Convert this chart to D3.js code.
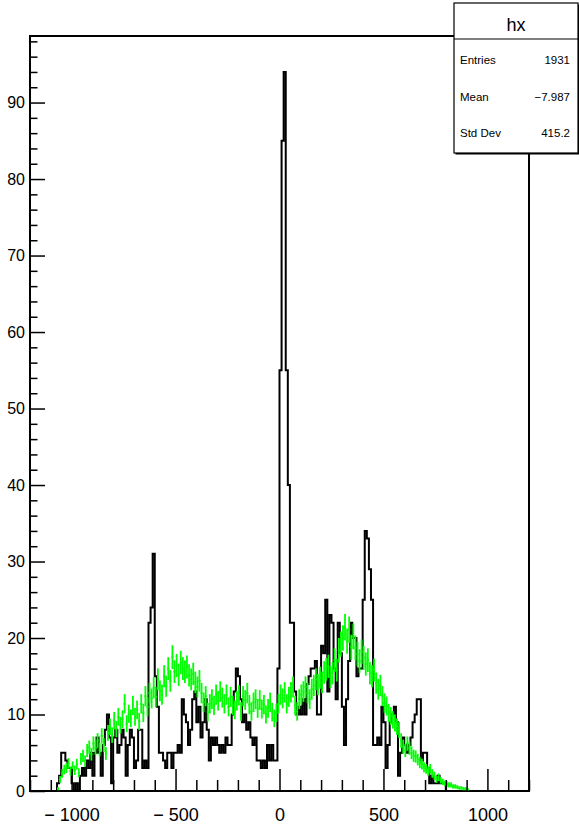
<!DOCTYPE html>
<html><head><meta charset="utf-8">
<script src="https://cdn.jsdelivr.net/npm/d3@7"></script>
<style>
body{margin:0;background:#fff}
svg{display:block}
text{font-family:"Liberation Sans",Arial,Helvetica,sans-serif;fill:#000}
</style>
</head><body><svg id="c" width="579" height="836"></svg>
<script>
// ---- data ----
const xMin = -1200, xMax = 1200, binWidth = 10;
const yMax = 98.7;
const hxFirstBin = 13;
const hxCounts = [
 1,2,5,5,4,3,3,1,0,1,0,2,3,2,4,3,5,2,5,7,5,2,6,8,10,7,1,7,8,5,6,8,7,2,6,8,7,3,4,8,8,3,4,3,
 22,24,31,15,11,5,5,4,3,5,5,3,5,5,6,5,12,10,9,6,8,12,13,9,11,7,9,12,8,4,7,6,7,6,5,6,5,7,6,6,
 10,13,16,15,12,9,10,8,9,7,6,7,4,4,3,4,3,6,4,6,4,4,16,
 55,85,94,55,40,22,22,13,10,11,10,12,10,14,15,16,16,17,10,10,19,18,25,13,23,22,16,12,22,18,
 11,6,12,17,22,20,20,15,16,16,25,34,33,29,25,6,6,7,6,11,9,3,6,9,10,11,9,2,5,7,6,5,6,7,9,10,
 12,12,4,5,5,3,1,2,1,1,2,1,1,1
];
const greenFirstBin = 13;
const greenValues = [
 0.3,1.5,2.3,2.8,3.0,3.6,2.6,3.2,2.7,3.5,2.4,4.2,4.6,3.9,5.3,5.7,4.8,6.2,5.6,6.6,5.4,7.2,6.0,4.9,
 7.6,8.4,7.3,9.2,8.1,9.7,8.6,9.4,11.4,8.8,10.1,9.5,11.2,9.7,10.6,9.1,11.4,10.2,12.4,11.0,12.8,
 12.1,13.5,12.3,14.6,13.1,12.6,15.0,13.7,16.0,14.4,17.5,15.6,16.4,15.2,16.8,16.0,15.6,16.2,15.1,
 14.6,15.3,14.2,13.6,14.4,12.8,11.6,12.4,10.3,11.4,12.0,11.2,12.6,11.8,13.0,12.2,11.4,12.6,11.0,
 12.3,11.2,10.6,11.8,12.5,10.4,12.4,11.9,12.8,11.3,10.4,11.6,12.0,10.8,11.9,10.7,11.3,10.0,10.8,
 11.6,10.3,9.5,10.2,11.4,12.6,12.1,12.9,11.4,12.3,12.9,13.6,11.2,10.4,12.0,12.6,13.0,13.6,12.8,
 12.0,13.3,13.8,14.6,13.9,14.8,14.2,15.5,15.9,16.3,14.9,15.4,17.1,15.8,18.4,19.2,20.0,21.4,19.6,
 21.1,18.8,20.2,18.7,17.9,17.0,18.2,17.4,16.6,17.1,15.4,15.0,15.8,14.1,13.3,13.8,12.4,11.5,11.1,
 10.2,9.8,9.3,8.9,8.4,8.0,6.6,5.8,5.3,6.2,5.6,5.0,4.6,4.5,4.1,3.7,3.5,3.1,2.9,2.6,2.9,2.3,2.0,
 1.5,1.8,1.4,1.2,1.0,0.9,0.8,0.8,0.6,0.6,0.5,0.4,0.4,0.3,0.3,0.2
];
const greenWeight = 0.14; // per-entry weight of the scaled histogram (error = sqrt(w*content))
const xMajorTicks = [-1000, -500, 0, 500, 1000];
const yMajorTicks = [0, 10, 20, 30, 40, 50, 60, 70, 80, 90];
const statsTitle = "hx";
const statsLabels = ["Entries", "Mean", "Std Dev"];
const statsValues = ["1931", "\u22127.987", "415.2"];

// ---- layout ----
const L = 30, R = 529, T = 36, B = 791;
const svg = d3.select("#c");
const x = d3.scaleLinear().domain([xMin, xMax]).range([L, R]);
const y = d3.scaleLinear().domain([0, yMax]).range([B, T]);

// frame
svg.append("rect").attr("x", L).attr("y", T).attr("width", R - L).attr("height", B - T)
  .attr("fill", "none").attr("stroke", "#000").attr("stroke-width", 2);

// black histogram outline
const nBins = Math.round((xMax - xMin) / binWidth);
const full = new Array(nBins).fill(0);
hxCounts.forEach((v, k) => full[hxFirstBin + k] = v);
const pts = [[xMin, 0]];
full.forEach((v, i) => {
  const lo = xMin + i * binWidth, hi = lo + binWidth;
  pts.push([lo, v]); pts.push([hi, v]);
});
pts.push([xMax, 0]);
const line = d3.line().x(d => x(d[0])).y(d => y(d[1]));
svg.append("path").attr("d", line(pts)).attr("fill", "none")
  .attr("stroke", "#000").attr("stroke-width", 2).attr("stroke-linejoin", "miter");

// green histogram with error bars
const gData = greenValues.map((v, k) => {
  const i = greenFirstBin + k;
  const lo = xMin + i * binWidth;
  return {lo, hi: lo + binWidth, v, e: Math.sqrt(greenWeight * v)};
});
const g = svg.append("g").attr("stroke", "#00ff00").attr("stroke-width", 1.8);
g.selectAll("line.v").data(gData).join("line").attr("class", "v")
  .attr("x1", d => x((d.lo + d.hi) / 2)).attr("x2", d => x((d.lo + d.hi) / 2))
  .attr("y1", d => y(Math.max(0, d.v - d.e))).attr("y2", d => y(d.v + d.e));
g.selectAll("line.h").data(gData).join("line").attr("class", "h")
  .attr("x1", d => x(d.lo)).attr("x2", d => x(d.hi))
  .attr("y1", d => y(d.v)).attr("y2", d => y(d.v));

// x axis
const xMinor = d3.range(xMin, xMax + 1, 100).filter(v => !xMajorTicks.includes(v));
svg.append("g").attr("transform", `translate(0,${B})`)
  .call(d3.axisBottom(x).tickValues(xMinor).tickSize(-11).tickFormat(""))
  .call(a => a.select(".domain").remove())
  .call(a => a.selectAll("line").attr("stroke-width", 1.5));
svg.append("g").attr("transform", `translate(0,${B})`)
  .call(d3.axisBottom(x).tickValues(xMajorTicks).tickSize(-22).tickPadding(17)
    .tickFormat(d => d < 0 ? "\u2212 " + Math.abs(d) : String(d)))
  .call(a => a.select(".domain").remove())
  .call(a => a.selectAll("line").attr("stroke-width", 1.5))
  .call(a => a.selectAll("text").attr("font-size", 18).attr("font-family", null)
    .style("white-space", "pre"));

// y axis
const yMinor = d3.range(0, yMax, 2).filter(v => v % 10 !== 0);
svg.append("g").attr("transform", `translate(${L},0)`)
  .call(d3.axisLeft(y).tickValues(yMinor).tickSize(-7.5).tickFormat(""))
  .call(a => a.select(".domain").remove())
  .call(a => a.selectAll("line").attr("stroke-width", 1.5));
svg.append("g").attr("transform", `translate(${L},0)`)
  .call(d3.axisLeft(y).tickValues(yMajorTicks).tickSize(-15).tickPadding(5).tickFormat(d3.format("d")))
  .call(a => a.select(".domain").remove())
  .call(a => a.selectAll("line").attr("stroke-width", 1.5))
  .call(a => a.selectAll("text").attr("font-size", 16).attr("font-family", null));

// stats box
const bx = 454, by = 3, bw = 124, bh = 150, sep = 39;
svg.append("rect").attr("x", bx + 1.5).attr("y", by + 1.5).attr("width", bw).attr("height", bh).attr("fill", "#000");
svg.append("rect").attr("x", bx).attr("y", by).attr("width", bw).attr("height", bh)
  .attr("fill", "#fff").attr("stroke", "#000").attr("stroke-width", 1.2);
svg.append("line").attr("x1", bx).attr("x2", bx + bw).attr("y1", by + sep - 3).attr("y2", by + sep - 3)
  .attr("stroke", "#000").attr("stroke-width", 1.2);
svg.append("text").attr("x", bx + bw / 2).attr("y", 31).attr("text-anchor", "middle")
  .attr("font-size", 18).text(statsTitle);
statsLabels.forEach((lab, k) => {
  const ty = 64 + k * 36.7;
  svg.append("text").attr("x", bx + 6).attr("y", ty).attr("font-size", 11.5).text(lab);
  svg.append("text").attr("x", bx + bw - 8).attr("y", ty).attr("text-anchor", "end")
    .attr("font-size", 11.5).text(statsValues[k]);
});
</script></body></html>
